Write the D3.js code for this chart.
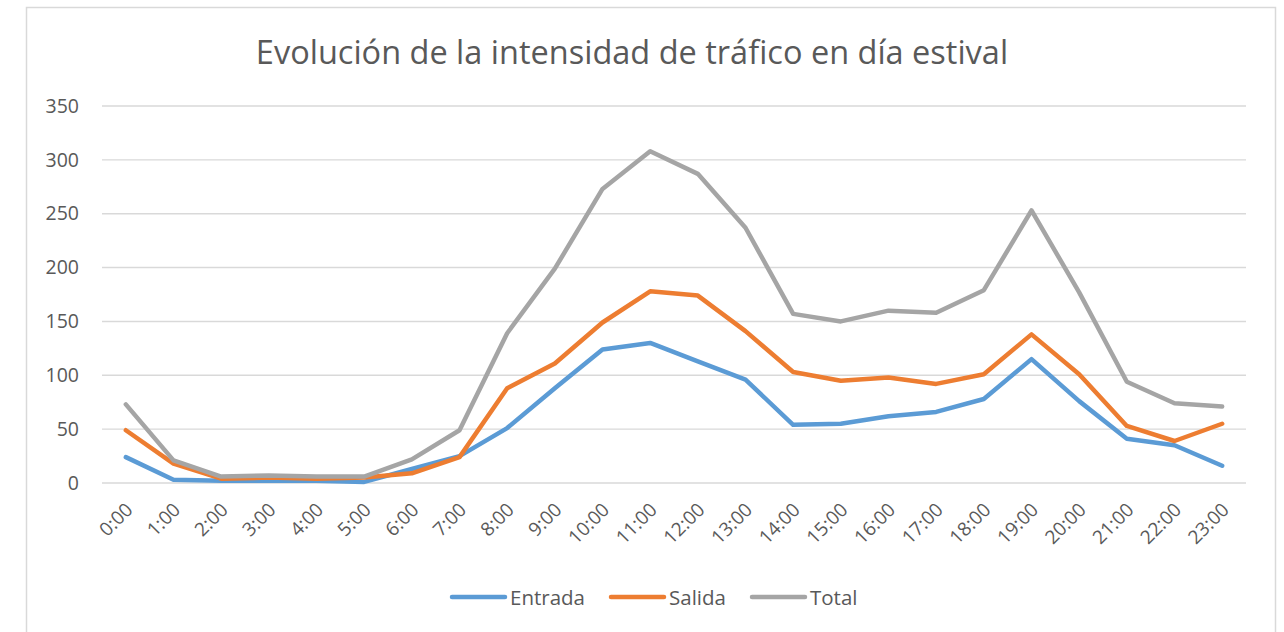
<!DOCTYPE html>
<html>
<head>
<meta charset="utf-8">
<script src="https://cdn.jsdelivr.net/npm/d3@7"></script>
<style>
  html, body { margin: 0; padding: 0; background: #fff; }
  svg { display: block; font-family: "Open Sans", "Liberation Sans", sans-serif; }
</style>
</head>
<body>
<svg id="chart" width="1284" height="632"></svg>
<script>
// Hourly traffic counts on a summer day
const hours = ["0:00","1:00","2:00","3:00","4:00","5:00","6:00","7:00","8:00","9:00","10:00","11:00",
               "12:00","13:00","14:00","15:00","16:00","17:00","18:00","19:00","20:00","21:00","22:00","23:00"];
const entrada = [24, 3, 2, 2, 2, 1, 13, 25, 51, 88, 124, 130, 113, 96, 54, 55, 62, 66, 78, 115, 76, 41, 35, 16];
const salida  = [49, 18, 4, 5, 4, 5, 9, 24, 88, 111, 149, 178, 174, 141, 103, 95, 98, 92, 101, 138, 101, 53, 39, 55];
const total   = [73, 21, 6, 7, 6, 6, 22, 49, 139, 199, 273, 308, 287, 237, 157, 150, 160, 158, 179, 253, 177, 94, 74, 71];
const yTicks  = [0, 50, 100, 150, 200, 250, 300, 350];
const seriesNames = ["Entrada", "Salida", "Total"];
const seriesColors = ["#5B9BD5", "#ED7D31", "#A5A5A5"];
const title = "Evolución de la intensidad de tráfico en día estival";

const series = [entrada, salida, total].map((values, i) => ({
  name: seriesNames[i], color: seriesColors[i], values
}));

const svg = d3.select("#chart");
const textColor = "#595959";
const gridColor = "#d9d9d9";

// chart frame
svg.append("rect")
  .attr("x", 26.5).attr("y", 7.5)
  .attr("width", 1249).attr("height", 640)
  .attr("fill", "#fff")
  .attr("stroke", gridColor).attr("stroke-width", 1.5);

// title
svg.append("text")
  .attr("x", 632).attr("y", 64)
  .attr("text-anchor", "middle")
  .attr("fill", textColor)
  .attr("font-size", 32.5)
  .text(title);

const plot = { left: 102, right: 1246, top: 106, bottom: 483 };

const x = d3.scaleBand().domain(hours).range([plot.left, plot.right]);
const y = d3.scaleLinear().domain([0, 350]).range([plot.bottom, plot.top]);

// horizontal gridlines
svg.append("g")
  .selectAll("line")
  .data(yTicks)
  .join("line")
  .attr("x1", plot.left).attr("x2", plot.right)
  .attr("y1", d => y(d)).attr("y2", d => y(d))
  .attr("stroke", gridColor).attr("stroke-width", 1.4);

// y axis labels
const yAxis = svg.append("g")
  .attr("transform", `translate(${plot.left - 23},0)`)
  .call(d3.axisLeft(y).tickValues(yTicks).tickSize(0).tickPadding(0));
yAxis.select(".domain").remove();
yAxis.selectAll("text")
  .attr("fill", textColor)
  .attr("font-size", 19.5)
  .attr("font-family", "\"Open Sans\", sans-serif");

// x axis labels, rotated
const xAxis = svg.append("g")
  .attr("transform", `translate(0,${plot.bottom})`)
  .call(d3.axisBottom(x).tickSize(0).tickPadding(0));
xAxis.select(".domain").remove();
xAxis.selectAll("text")
  .attr("fill", textColor)
  .attr("font-size", 19)
  .attr("font-family", "\"Open Sans\", sans-serif")
  .attr("text-anchor", "end")
  .attr("dy", null)
  .attr("y", 0)
  .attr("transform", "translate(8,28) rotate(-45)");

// series lines
const line = d3.line()
  .x((d, i) => x(hours[i]) + x.bandwidth() / 2)
  .y(d => y(d));

svg.append("g")
  .selectAll("path")
  .data(series)
  .join("path")
  .attr("d", d => line(d.values))
  .attr("fill", "none")
  .attr("stroke", d => d.color)
  .attr("stroke-width", 4.5)
  .attr("stroke-linejoin", "round")
  .attr("stroke-linecap", "round");

// legend
const legendX = [450, 609, 750];
const legend = svg.append("g")
  .selectAll("g")
  .data(series)
  .join("g")
  .attr("transform", (d, i) => `translate(${legendX[i]},597)`);
legend.append("line")
  .attr("x1", 2).attr("x2", 55)
  .attr("stroke", d => d.color)
  .attr("stroke-width", 4.5)
  .attr("stroke-linecap", "round");
legend.append("text")
  .attr("x", 60).attr("y", 7.5)
  .attr("fill", textColor)
  .attr("font-size", 20.5)
  .text(d => d.name);
</script>
</body>
</html>
